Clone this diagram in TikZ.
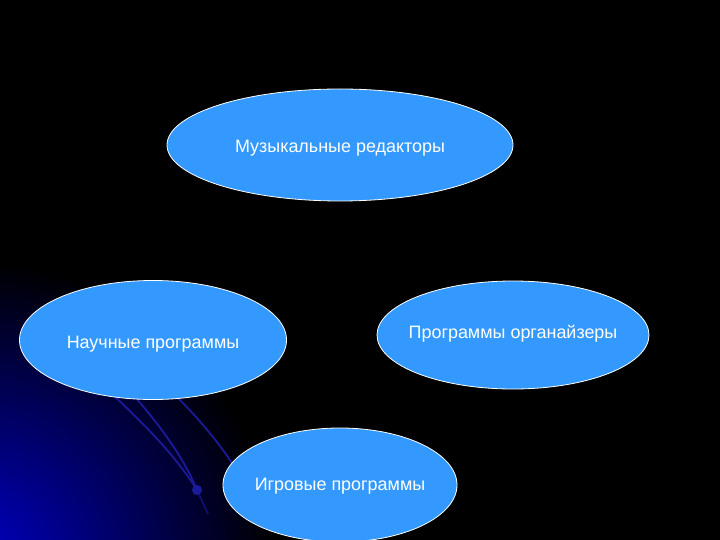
\documentclass[tikz,border=0pt]{standalone}
\usepackage{fontspec}
\setmainfont{Liberation Sans}
\usetikzlibrary{shapes.geometric}
\definecolor{ellfill}{HTML}{3399FF}
\definecolor{deco}{HTML}{1A1A9A}
\definecolor{glow}{HTML}{0000C8}
\begin{document}
\begin{tikzpicture}[x=1bp,y=-1bp,
  bubble/.style={ellipse, draw=white, line width=0.8bp, fill=ellfill, inner sep=0pt},
  btext/.style={text=white, font=\fontsize{18}{21}\selectfont, inner sep=0pt},
  decoline/.style={draw=deco, line width=1.8bp}]
\fill[black] (0,0) rectangle (720,540);
\begin{scope}
\clip (0,0) rectangle (720,540);
\shade[inner color=glow, outer color=black] (-30,565) circle[radius=305];
\end{scope}
\useasboundingbox (0,0) rectangle (720,540);
% decorative lines
\coordinate (dp) at (197,490);
\draw[decoline] (110,392) .. controls (145,425) and (175,455) .. (dp);
\draw[decoline] (134,396) .. controls (160,425) and (185,460) .. (dp);
\draw[decoline, draw opacity=0.6] (dp) -- (208,514);
\draw[decoline] (178,398) .. controls (200,420) and (218,442) .. (232,463);
\node[circle, fill=deco, inner sep=0pt, minimum size=10bp] (dot) at (dp) {};
% ellipses
\node[bubble, minimum width=346bp, minimum height=112bp,
  label={[btext, yshift=-3.5bp]center:Музыкальные редакторы}] (mus) at (340,145) {};
\node[bubble, minimum width=267bp, minimum height=119bp,
  label={[btext, yshift=-4.5bp]center:Научные программы}] (sci) at (153,340) {};
\node[bubble, minimum width=272bp, minimum height=108bp,
  label={[btext, yshift=1.5bp]center:Программы органайзеры}] (org) at (513,335) {};
\node[bubble, minimum width=234bp, minimum height=114bp,
  label={[btext, yshift=-1bp]center:Игровые программы}] (game) at (340,485) {};
\end{tikzpicture}
\end{document}
